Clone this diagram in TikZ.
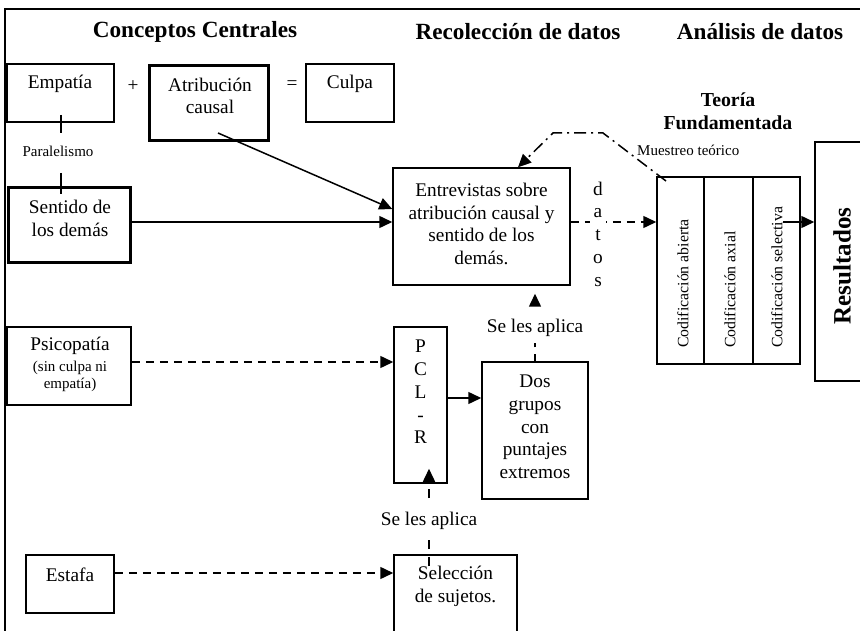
\documentclass[tikz,border=0pt]{standalone}
\usepackage{fontspec}
\setmainfont{Liberation Serif}
\usetikzlibrary{arrows.meta,calc}
\tikzset{
  thinbox/.style={draw, line width=1.5pt, inner sep=0pt},
  thickbox/.style={draw, line width=3.6pt, inner sep=0pt},
  txt/.style={font=\fontsize{19.3}{22.7}\selectfont, align=center, inner sep=0pt},
  smalltxt/.style={font=\fontsize{15}{17}\selectfont, align=center, inner sep=0pt},
  codtxt/.style={font=\fontsize{15.8}{17}\selectfont, inner sep=0pt, rotate=90, anchor=west},
  head/.style={font=\fontsize{23.2}{26}\selectfont\bfseries, inner sep=0pt},
  arr/.style={line width=1.5pt, -{Triangle[length=13pt,width=12pt]}},
  darr/.style={arr, dash pattern=on 8pt off 6pt},
  ddarr/.style={arr, dash pattern=on 12pt off 5pt on 2pt off 5pt},
  vlabel/.style={txt, fill=white, minimum height=30pt, minimum width=96pt},
}
\begin{document}
\begin{tikzpicture}[x=1pt,y=1pt]
\useasboundingbox (0,0) rectangle (860,-631);
\clip (0,0) rectangle (860,-631);
\fill[white] (0,0) rectangle (860,-631);
% outer frame
\draw[line width=2pt] (5,-660) -- (5,-9) -- (900,-9);

% headings
\node[head] (h1) at (195,-32) {Conceptos Centrales};
\node[head] (h2) at (518,-32) {Recolección de datos};
\node[head] (h3) at (760,-32) {Análisis de datos};

% concept boxes
\node[thinbox, minimum width=107pt, minimum height=58pt] (emp) at (60.5,-93) {};
\node[txt] (empT) at (60,-84) {Empatía};
\node[txt] (plus) at (133,-86) {+};
\node[thickbox, minimum width=119pt, minimum height=75pt] (atr) at (209,-103) {};
\node[txt] (atrT) at (210,-96) {Atribución\\causal};
\node[txt] (eq) at (292,-85) {=};
\node[thinbox, minimum width=88pt, minimum height=58pt] (culpa) at (350,-93) {};
\node[txt] (culpaT) at (350,-84) {Culpa};

\node[smalltxt] (par) at (58,-151) {Paralelismo};
\coordinate (p1) at (61,-115);
\coordinate (p2) at (61,-133);
\coordinate (p3) at (61,-173);
\coordinate (p4) at (61,-194);
\draw[line width=1.5pt] (p1) -- (p2);
\draw[line width=1.5pt] (p3) -- (p4);

\node[thickbox, minimum width=122pt, minimum height=75pt] (sent) at (69.5,-225) {};
\node[txt] (sentT) at (70,-218.5) {Sentido de\\los demás};

\node[thinbox, minimum width=124pt, minimum height=78pt] (psico) at (69,-366) {};
\node[txt] (psicoT) at (70,-346) {Psicopatía};
\node[smalltxt] (psicoS) at (70,-376.5) {(sin culpa ni\\empatía)};

\node[thinbox, minimum width=88pt, minimum height=58pt] (estafa) at (70,-584) {};
\node[txt] (estafaT) at (70,-575) {Estafa};

% data collection
\node[thinbox, minimum width=177pt, minimum height=117pt] (entre) at (481.5,-226.5) {};
\node[txt] (entreT) at (481.5,-224) {Entrevistas sobre\\atribución causal y\\sentido de los\\demás.};

\node[thinbox, minimum width=53pt, minimum height=156pt] (pcl) at (420.5,-405) {};
\node[txt] (pclT) at (420.5,-392) {P\\C\\L\\-\\R};

\node[thinbox, minimum width=106pt, minimum height=137pt] (dos) at (535,-430.5) {};
\node[txt] (dosT) at (535,-427) {Dos\\grupos\\con\\puntajes\\extremos};

\node[thinbox, minimum width=123pt, minimum height=100pt] (sel) at (455.5,-605) {};
\node[txt] (selT) at (455.5,-586) {Selección\\de sujetos.};

% analysis
\node[head, font=\fontsize{19.8}{23}\selectfont\bfseries, align=center] (teo) at (728,-111.5) {Teoría\\Fundamentada};
\node[thinbox, minimum width=47pt, minimum height=187pt] (cod1) at (680.5,-270.5) {};
\node[thinbox, minimum width=49pt, minimum height=187pt] (cod2) at (728.5,-270.5) {};
\node[thinbox, minimum width=47pt, minimum height=187pt] (cod3) at (776.5,-270.5) {};
\node[codtxt] (c1T) at (683,-348) {Codificación abierta};
\node[codtxt] (c2T) at (730,-348) {Codificación axial};
\node[codtxt] (c3T) at (777,-348) {Codificación selectiva};

\node[thinbox, minimum width=65pt, minimum height=239pt] (res) at (847.5,-261.5) {};
\node[head, font=\fontsize{25}{28}\selectfont\bfseries, rotate=90] (resT) at (842,-266) {Resultados};

% connectors
\coordinate (atrS) at (218,-133);
\draw[arr] (atrS) -- ([yshift=17.5pt]entre.west);
\draw[arr] ([yshift=3pt]sent.east) -- ([yshift=3pt]sent.east -| entre.west);

\draw[darr] ([yshift=4.5pt]entre.east) -- ([yshift=4.5pt]entre.east -| cod1.west);
\node[txt, fill=white, inner xsep=3pt] (datos) at (598,-234) {d\\a\\t\\o\\s};

\coordinate (c3a) at (783,-222);
\draw[arr] (c3a) -- (c3a -| res.west);

\draw[darr] ([yshift=4pt]psico.east) -- ([yshift=4pt]psico.east -| pcl.west);
\draw[arr] ([yshift=7pt]pcl.east) -- ([yshift=7pt]pcl.east -| dos.west);
\draw[darr] ([yshift=11pt]estafa.east) -- ([yshift=11pt]estafa.east -| sel.west);

\draw[arr, dash pattern=on 7pt off 7pt] (dos.north) -- node[vlabel] (sla1) {Se les aplica} ([yshift=-8pt]dos.north |- entre.south);

\coordinate (selA) at (429,-566);
\draw[arr, dash pattern=on 9pt off 8pt] (selA) -- node[vlabel, pos=0.46] (sla2) {Se les aplica} ([yshift=15pt]selA |- pcl.south);

\coordinate (mt) at (666,-181);
\draw[ddarr] (mt) -- (603,-133) -- (553,-133) -- ([xshift=36.5pt]entre.north);
\node[smalltxt, anchor=west] (mtT) at (637,-150) {Muestreo teórico};
\end{tikzpicture}
\end{document}
